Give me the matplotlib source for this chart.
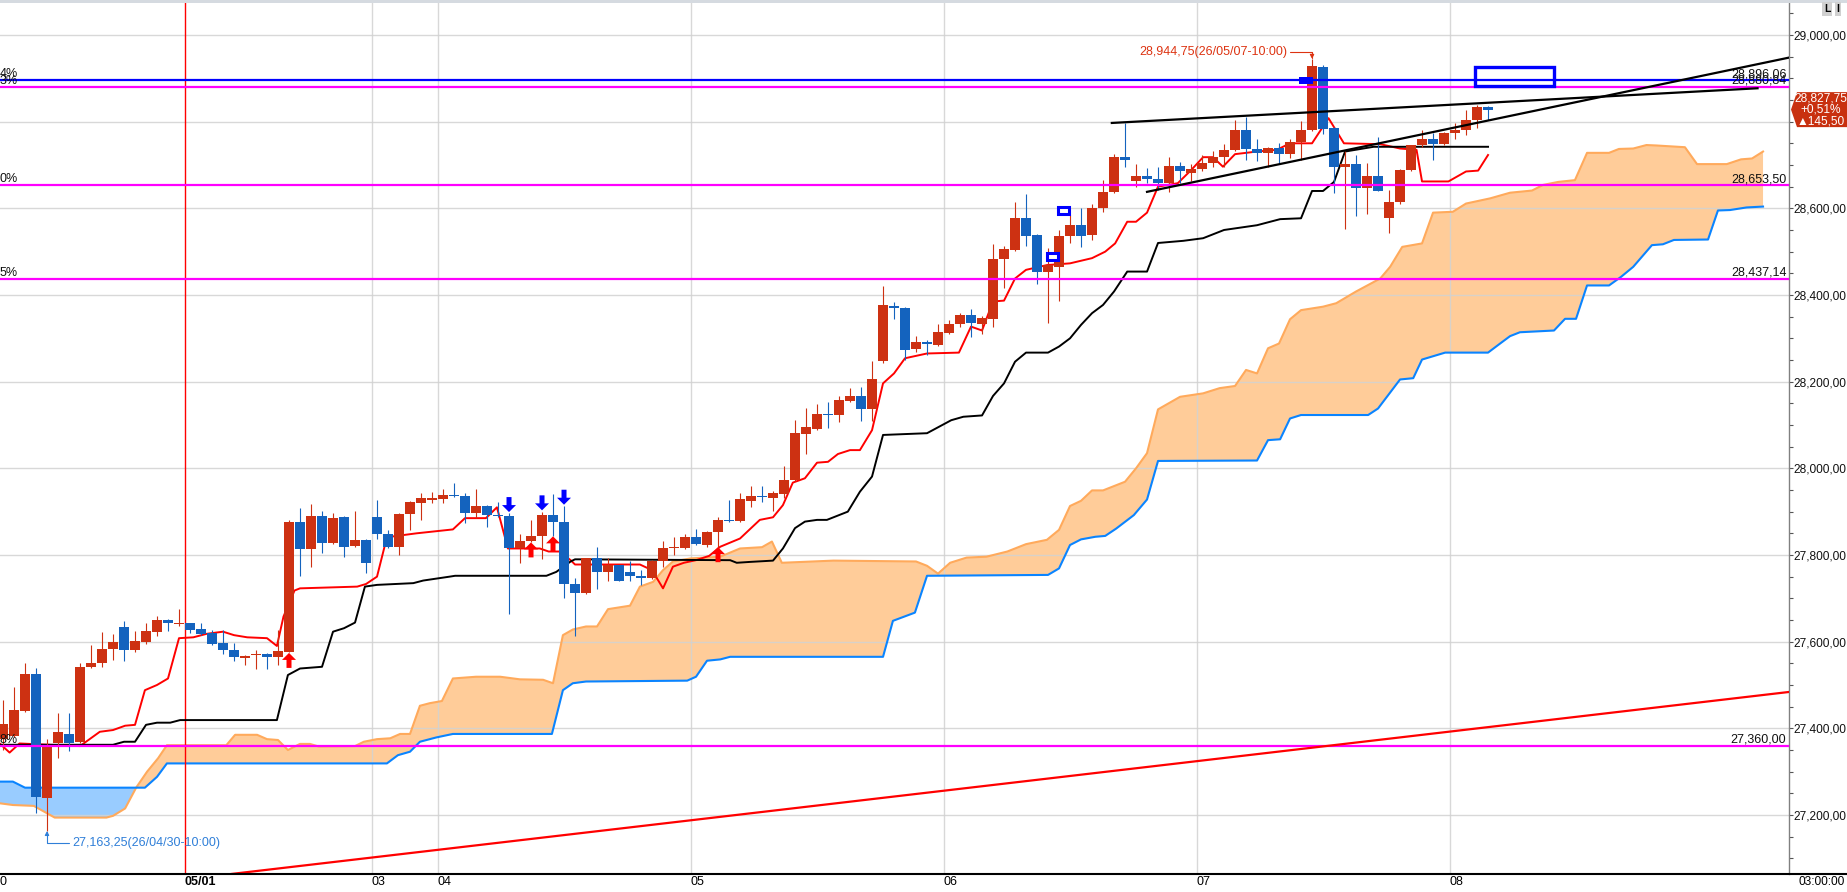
import numpy as np
import matplotlib
matplotlib.use('Agg')
import matplotlib.pyplot as plt
import matplotlib.transforms as mtransforms
from matplotlib import font_manager
from matplotlib.patches import Polygon, Rectangle
from matplotlib.lines import Line2D

# narrow font if there is one, else Arial-metric Liberation Sans a bit smaller
_names = {f.name for f in font_manager.fontManager.ttflist}
if 'Liberation Sans Narrow' in _names:
    FONT, FS, FS_AX = 'Liberation Sans Narrow', 9.8, 9.8
else:
    FONT, FS, FS_AX = 'Liberation Sans', 9.0, 8.6
plt.rcParams['font.family'] = [FONT, 'DejaVu Sans']

# hourly candles, index 0..135
opens = [27375, 27383, 27440, 27525, 27240, 27365, 27388, 27369, 27541, 27550,
         27583, 27633, 27581, 27600, 27623, 27650, 27640, 27642, 27629, 27621,
         27598, 27581, 27562, 27569, 27571, 27565, 27577, 27876, 27813, 27890,
         27828, 27887, 27821, 27835, 27887, 27848, 27819, 27895, 27921, 27928,
         27930, 27938, 27937, 27896, 27913, 27893, 27890, 27815, 27832, 27844,
         27892, 27875, 27732, 27712, 27792, 27761, 27777, 27760, 27752, 27746,
         27785, 27815, 27815, 27841, 27823, 27854, 27881, 27879, 27925, 27936,
         27932, 27940, 27972, 28079, 28091, 28126, 28123, 28155, 28167, 28136,
         28248, 28375, 28369, 28275, 28292, 28285, 28312, 28333, 28354, 28333,
         28345, 28482, 28504, 28577, 28538, 28454, 28465, 28536, 28562, 28538,
         28600, 28637, 28719, 28662, 28675, 28667, 28659, 28698, 28682, 28690,
         28705, 28718, 28735, 28781, 28736, 28727, 28740, 28725, 28752, 28781,
         28927, 28786, 28696, 28702, 28646, 28675, 28578, 28614, 28688, 28745,
         28759, 28748, 28773, 28781, 28804, 28833]
highs = [27465, 27495, 27551, 27539, 27375, 27436, 27436, 27550, 27592, 27623,
         27618, 27648, 27625, 27642, 27659, 27652, 27675, 27643, 27642, 27627,
         27627, 27596, 27570, 27581, 27573, 27627, 27881, 27908, 27918, 27901,
         27896, 27890, 27901, 27837, 27927, 27858, 27898, 27925, 27944, 27945,
         27952, 27967, 27942, 27952, 27915, 27923, 27896, 27848, 27881, 27900,
         27941, 27913, 27746, 27794, 27818, 27792, 27778, 27785, 27765, 27789,
         27832, 27841, 27848, 27859, 27856, 27887, 27927, 27944, 27959, 27959,
         27948, 28005, 28112, 28140, 28148, 28152, 28167, 28186, 28187, 28248,
         28421, 28383, 28372, 28306, 28296, 28333, 28342, 28359, 28367, 28352,
         28518, 28512, 28615, 28633, 28541, 28508, 28550, 28585, 28600, 28610,
         28665, 28725, 28796, 28702, 28692, 28695, 28718, 28708, 28702, 28723,
         28733, 28748, 28804, 28811, 28761, 28741, 28750, 28759, 28802, 28944.75,
         28930, 28788, 28733, 28723, 28705, 28764, 28642, 28690, 28746, 28781,
         28773, 28775, 28796, 28828, 28838, 28836]
lows = [27350, 27380, 27438, 27205, 27163.25, 27331, 27348, 27365, 27540, 27542,
        27558, 27556, 27577, 27595, 27614, 27625, 27635, 27619, 27616, 27592,
        27571, 27556, 27546, 27537, 27537, 27546, 27575, 27752, 27772, 27805,
        27826, 27796, 27819, 27758, 27838, 27817, 27800, 27858, 27881, 27919,
        27919, 27934, 27873, 27885, 27865, 27887, 27664, 27781, 27830, 27790,
        27844, 27700, 27614, 27710, 27721, 27741, 27740, 27741, 27731, 27744,
        27772, 27801, 27813, 27823, 27819, 27819, 27877, 27877, 27910, 27923,
        27902, 27931, 27970, 28033, 28089, 28092, 28108, 28153, 28110, 28110,
        28244, 28345, 28251, 28268, 28262, 28283, 28310, 28327, 28302, 28309,
        28325, 28415, 28502, 28512, 28425, 28336, 28385, 28519, 28511, 28528,
        28592, 28635, 28695, 28650, 28658, 28642, 28638, 28658, 28662, 28685,
        28695, 28695, 28733, 28711, 28710, 28696, 28705, 28717, 28711, 28779,
        28771, 28636, 28552, 28582, 28588, 28639, 28542, 28610, 28686, 28742,
        28711, 28746, 28759, 28769, 28785, 28804]
closes = [27410, 27442, 27525, 27242, 27360, 27391, 27367, 27541, 27550, 27583,
          27600, 27581, 27601, 27625, 27650, 27642, 27643, 27627, 27618, 27595,
          27581, 27564, 27568, 27571, 27565, 27579, 27876, 27813, 27890, 27828,
          27885, 27819, 27835, 27782, 27848, 27819, 27895, 27923, 27931, 27932,
          27938, 27935, 27896, 27913, 27892, 27891, 27815, 27832, 27844, 27892,
          27875, 27732, 27712, 27792, 27761, 27778, 27741, 27752, 27746, 27787,
          27817, 27817, 27841, 27825, 27854, 27881, 27879, 27929, 27936, 27934,
          27942, 27973, 28081, 28095, 28125, 28124, 28158, 28167, 28136, 28206,
          28377, 28369, 28273, 28291, 28286, 28314, 28333, 28354, 28335, 28346,
          28483, 28506, 28577, 28537, 28454, 28469, 28536, 28562, 28537, 28600,
          28637, 28718, 28711, 28675, 28667, 28659, 28698, 28685, 28690, 28705,
          28718, 28735, 28781, 28736, 28727, 28740, 28725, 28752, 28781, 28928,
          28783, 28696, 28702, 28646, 28675, 28641, 28614, 28688, 28745, 28759,
          28748, 28773, 28781, 28804, 28833, 28827.75]

# ichimoku lines as (candle index, price) vertices
tenkan = [(-0.3, 27365), (0.6, 27344), (1.5, 27365), (7, 27359), (8.8, 27392), (10, 27396),
          (11.1, 27406), (12, 27408), (12.9, 27488), (14, 27500), (15, 27515), (16, 27608),
          (17.3, 27610), (18.5, 27618), (20, 27623), (21, 27615), (22.2, 27610), (24, 27608),
          (24.9, 27590), (25.5, 27658), (26.5, 27718), (27, 27723), (32.2, 27727), (33, 27733),
          (34, 27750), (34.9, 27841), (37.6, 27850), (40.9, 27859), (42, 27885), (43.9, 27885),
          (44.9, 27910), (45.9, 27815), (48.8, 27815), (49.6, 27808), (50.6, 27808), (51.6, 27788),
          (52, 27778), (57.9, 27778), (59, 27765), (60, 27723), (60.9, 27773), (61.9, 27782),
          (63, 27788), (64.2, 27798), (65.2, 27819), (67, 27838), (68.8, 27881), (70, 27887),
          (70.9, 27915), (71.8, 27967), (72.9, 27977), (74, 28013), (75, 28015), (75.9, 28033),
          (77, 28042), (77.9, 28042), (79, 28088), (80, 28196), (81, 28219), (82, 28254),
          (84, 28265), (86.9, 28267), (88, 28327), (89, 28318), (90, 28385), (91, 28387),
          (92, 28438), (93, 28458), (94.9, 28469), (97, 28473), (98, 28479), (99, 28485),
          (100.2, 28500), (101.1, 28519), (102.2, 28569), (103, 28569), (104, 28590), (105, 28650),
          (106.8, 28658), (108, 28688), (109.1, 28718), (110, 28718), (110.9, 28696), (112, 28725),
          (114, 28731), (115.8, 28735), (117, 28750), (119, 28750), (120.5, 28808), (121.9, 28750),
          (125.2, 28748), (127, 28738), (128.5, 28735), (129, 28662), (131.4, 28662), (133, 28685),
          (134.1, 28687), (135, 28723)]
kijun = [(-0.3, 27362), (10, 27362), (11, 27369), (12, 27369), (13, 27408), (14, 27413),
         (15.2, 27413), (16.1, 27419), (24.9, 27419), (25.9, 27523), (27, 27538), (29, 27542),
         (30, 27623), (31, 27631), (32, 27644), (32.9, 27727), (34, 27731), (37.3, 27735),
         (38.2, 27741), (40.6, 27750), (41.1, 27752), (49.4, 27752), (50.3, 27761), (51.6, 27785),
         (52, 27790), (66.1, 27788), (66.7, 27782), (67.9, 27784), (70, 27787), (70.9, 27815),
         (72, 27862), (72.9, 27877), (74, 27881), (74.9, 27881), (76.8, 27900), (77.9, 27946),
         (79, 27981), (80, 28077), (84, 28081), (86.2, 28111), (87.3, 28119), (89, 28122),
         (90, 28167), (91, 28196), (92, 28246), (93, 28267), (95, 28267), (96, 28281),
         (97, 28300), (98, 28331), (99, 28358), (100, 28377), (101, 28408), (102.2, 28454),
         (104, 28454), (105, 28520), (107.3, 28525), (109.1, 28531), (111, 28550), (114, 28561),
         (116.1, 28575), (118, 28577), (119, 28640), (120, 28640), (121, 28661), (122, 28731),
         (124.6, 28742), (135, 28742)]
span_a = [(-0.3, 27227), (0.9, 27223), (2.8, 27221), (4.7, 27194), (9.4, 27194), (10, 27198),
          (11.1, 27215), (12, 27258), (12.1, 27263), (13.1, 27300), (14.1, 27331), (14.9, 27361),
          (20.3, 27361), (21.1, 27385), (23.1, 27385), (24, 27375), (25, 27373), (25.9, 27350),
          (27, 27364), (27.9, 27364), (28.7, 27358), (32, 27359), (32.8, 27369), (34, 27375),
          (35.2, 27377), (36.1, 27387), (37, 27387), (37.9, 27452), (38.8, 27458), (39.9, 27463),
          (40.9, 27515), (43, 27519), (45.2, 27519), (47, 27513), (49.1, 27512), (50, 27504),
          (50.9, 27615), (51.8, 27628), (53, 27635), (54, 27635), (55, 27675), (57, 27683),
          (57.9, 27727), (59.1, 27738), (60, 27765), (60.9, 27785), (62.5, 27792), (65.2, 27796),
          (67, 27815), (69, 27818), (69.9, 27831), (70.8, 27782), (75.5, 27787), (83, 27785),
          (84, 27775), (85, 27757), (86.1, 27782), (87.6, 27794), (89.4, 27796), (91.3, 27808),
          (93, 27825), (94.9, 27835), (96, 27858), (97, 27913), (98, 27925), (99, 27949),
          (100, 27949), (102, 27969), (103, 28000), (104, 28035), (105, 28136), (107, 28165),
          (109.1, 28173), (110.6, 28185), (112, 28190), (113, 28227), (114, 28219), (115, 28277),
          (116, 28288), (117, 28344), (118, 28365), (120, 28373), (121.2, 28381), (123, 28408),
          (125.2, 28438), (126.1, 28465), (127.2, 28511), (129, 28519), (130, 28590), (131.8, 28592),
          (133, 28611), (135.2, 28623), (137, 28636), (139, 28641), (140, 28654), (141.4, 28661),
          (142.9, 28665), (144, 28728), (146, 28728), (146.9, 28737), (148.2, 28738), (149.4, 28746),
          (150.3, 28745), (152.9, 28741), (154, 28702), (156.7, 28702), (158, 28713), (159, 28715),
          (160, 28731)]
span_b = [(-0.3, 27277), (0.9, 27277), (2, 27263), (12.1, 27263), (12.9, 27263), (14, 27288),
          (14.9, 27319), (34.9, 27319), (35.9, 27338), (37, 27346), (37.9, 27369), (39.4, 27379),
          (40.9, 27387), (49.9, 27387), (50.9, 27488), (51.8, 27504), (53, 27508), (62.2, 27510),
          (63, 27519), (64, 27556), (65.2, 27559), (66.1, 27565), (80, 27565), (80.9, 27648),
          (82.9, 27667), (84, 27752), (95, 27754), (96, 27769), (97, 27823), (98, 27836),
          (99.3, 27842), (100.2, 27844), (101.2, 27861), (102.8, 27892), (104, 27928), (105, 28017),
          (114, 28018), (115, 28065), (116.1, 28067), (117, 28115), (118, 28123), (124.1, 28123),
          (125, 28138), (127, 28205), (128.2, 28208), (129, 28251), (131.1, 28267), (135, 28267),
          (136.1, 28288), (137, 28305), (137.9, 28314), (141, 28318), (142, 28345), (143, 28345),
          (144, 28422), (146, 28422), (147.1, 28442), (148.2, 28465), (149.9, 28515), (150.9, 28517),
          (151.9, 28527), (155, 28528), (155.9, 28595), (157, 28596), (158.5, 28602), (160, 28604)]
cloud_cross = 12.1

# drawn objects
level_prices = [28896.06, 28880.84, 28653.50, 28437.14, 27360.00]
level_colors = ['#0000FF', '#FF00FF', '#FF00FF', '#FF00FF', '#FF00FF']
level_left_tags = ['4%', '3%', '0%', '5%', '8%']
trend_black_1 = [(100.8, 28797), (159.5, 28877)]
trend_black_2 = [(104.0, 28638), (162.4, 28948)]
trend_red = [(20.8, 27064), (162.4, 27484)]
box_k = (133.8, 141.0)
box_p = (28882, 28926)
sell_signals = [46, 49, 51]
buy_signals = [26, 48, 50, 65]
hollow_marks = [(95.4, 28489), (96.45, 28595)]
solid_marks = [(118.45, 28896)]

date_pos = [16.5, 33.5, 39.5, 62.5, 85.5, 108.5, 131.5]
date_labels = ['05/01', '03', '04', '05', '06', '07', '08']
change_value = 145.50
change_pct = 0.51

UP, DOWN = '#CD3112', '#1463BE'
W, H = 1847, 892


def won(v):
    return f'{v:,.2f}'.replace('.', ',')


fig = plt.figure(figsize=(W / 100, H / 100), dpi=100)
ax = fig.add_axes([0, 18 / H, 1789 / W, 871 / H])
ax.set_xlim(-0.273, 162.36)
ax.set_ylim(27063.8, 29073.8)

# grid
yt = np.arange(27200, 29001, 200)
for v in yt:
    ax.axhline(v, color='#D2D2D2', lw=1, zorder=1.5, alpha=0.85)
for p in date_pos[1:]:
    ax.axvline(p, color='#D2D2D2', lw=1, zorder=1.5, alpha=0.85)
ax.axvline(date_pos[0], color='#FF0000', lw=1, zorder=3)

# cloud
A = np.array(span_a)
B = np.array(span_b)
left_a, left_b = A[A[:, 0] <= cloud_cross], B[B[:, 0] <= cloud_cross]
right_a, right_b = A[A[:, 0] >= cloud_cross], B[B[:, 0] >= cloud_cross]
ax.add_patch(Polygon(np.vstack([left_a, left_b[::-1]]), closed=True,
                     facecolor='#99CCFF', edgecolor='none', zorder=1))
ax.add_patch(Polygon(np.vstack([right_a, right_b[::-1]]), closed=True,
                     facecolor='#FFCC99', edgecolor='none', zorder=1))
ax.plot(A[:, 0], A[:, 1], color='#FFAA5C', lw=1.5, zorder=2)
ax.plot(B[:, 0], B[:, 1], color='#0A84FF', lw=1.5, zorder=2)

# conversion / base lines
T = np.array(tenkan)
K = np.array(kijun)
ax.plot(T[:, 0], T[:, 1], color='#FF0000', lw=1.4, zorder=4)
ax.plot(K[:, 0], K[:, 1], color='#000000', lw=1.4, zorder=4)

# candles
o, h, l, c = (np.array(a, dtype=float) for a in (opens, highs, lows, closes))
idx = np.arange(len(o))
cols = np.where(c > o, UP, DOWN)
ax.vlines(idx, l, h, colors=cols, lw=0.8, zorder=5)
ax.bar(idx, np.maximum(np.abs(c - o), 2.3), bottom=np.minimum(o, c), width=0.85,
       color=cols, lw=0, zorder=5)

# horizontal levels
lab_tr = mtransforms.blended_transform_factory(ax.transAxes, ax.transData)
lift = mtransforms.ScaledTranslation(0, 3 / 100, fig.dpi_scale_trans)
for v, col, tag in zip(level_prices, level_colors, level_left_tags):
    ax.axhline(v, color=col, lw=1.6, zorder=6)
    ax.text(0.9985, v, won(v), transform=lab_tr + lift,
            ha='right', va='baseline', fontsize=FS, color='#111111', zorder=7)
    ax.text(18 / 1789, v, tag, transform=lab_tr + lift,
            ha='right', va='baseline', fontsize=FS, color='#111111', zorder=7)

# trend lines
for pts, col in ((trend_black_1, 'black'), (trend_black_2, 'black'), (trend_red, '#FF0000')):
    pts = np.array(pts)
    ax.plot(pts[:, 0], pts[:, 1], color=col, lw=1.6, zorder=8)

ax.add_patch(Rectangle((box_k[0], box_p[0]), box_k[1] - box_k[0], box_p[1] - box_p[0],
                       fill=False, edgecolor='#0000FF', lw=2.4, zorder=8))


def pix_patch(verts, x, y, **kw):
    tr = mtransforms.ScaledTranslation(x, y, ax.transData)
    return Polygon(verts, closed=True, transform=tr, **kw)


up_arrow = [(0, 0), (7, -7), (2.5, -7), (2.5, -15), (-2.5, -15), (-2.5, -7), (-7, -7)]
down_arrow = [(x, -y) for x, y in up_arrow]
for k in buy_signals:
    ax.add_artist(pix_patch(up_arrow, k, lows[k] - 1, facecolor='#FF0000', edgecolor='none', zorder=9))
for k in sell_signals:
    ax.add_artist(pix_patch(down_arrow, k, highs[k] + 3, facecolor='#0000FF', edgecolor='none', zorder=9))
for k, p in hollow_marks:
    ax.add_artist(pix_patch([(-5.5, -3.5), (5.5, -3.5), (5.5, 3.5), (-5.5, 3.5)], k, p,
                            facecolor='white', edgecolor='#0000FF', lw=2.2, zorder=9))
for k, p in solid_marks:
    ax.add_artist(pix_patch([(-7, -3.5), (7, -3.5), (7, 3.5), (-7, 3.5)], k, p,
                            facecolor='#0000FF', edgecolor='none', zorder=9))

# high / low annotations
hi_k = int(np.argmax(h))
lo_k = int(np.argmin(l))
ax.annotate(f'{won(h[hi_k])}(26/05/07-10:00)', xy=(hi_k, h[hi_k]), xytext=(-25, 7),
            textcoords='offset pixels', ha='right', va='center', fontsize=FS, color='#DD3311',
            arrowprops=dict(arrowstyle='-|>', color='#DD3311', lw=0.8, mutation_scale=6,
                            shrinkA=0, shrinkB=0, connectionstyle='angle,angleA=0,angleB=90,rad=0'),
            zorder=10)
ax.annotate(f'{won(l[lo_k])}(26/04/30-10:00)', xy=(lo_k, l[lo_k]), xytext=(25, -12),
            textcoords='offset pixels', ha='left', va='center', fontsize=FS, color='#2F7FD8',
            arrowprops=dict(arrowstyle='-|>', color='#2F7FD8', lw=0.8, mutation_scale=6,
                            shrinkA=0, shrinkB=0, connectionstyle='angle,angleA=0,angleB=90,rad=0'),
            zorder=10)

# axes styling; the 28,800 label sits under the last-price tag, so it is left blank
ax.yaxis.tick_right()
ax.set_yticks(yt)
ax.set_yticks(np.arange(27100, 29051, 50), minor=True)
ax.set_yticklabels(['' if abs(v - c[-1]) < 60 else won(v) for v in yt])
ax.tick_params(axis='y', which='both', direction='out', length=3, width=0.8, color='#555555',
               pad=0.3, labelsize=FS_AX, labelcolor='#111111')
ax.set_xticks([])
for s in ('left', 'top', 'bottom'):
    ax.spines[s].set_visible(False)
ax.spines['right'].set_color('#808080')
ax.spines['right'].set_linewidth(1)

xl_tr = mtransforms.blended_transform_factory(ax.transData, ax.transAxes)
for p, lab in zip(date_pos, date_labels):
    ax.text(p, -0.002, lab, transform=xl_tr, ha='left', va='top', fontsize=FS,
            fontweight='bold' if '/' in lab else 'normal', clip_on=False)
ax.text(0, -0.002, '0', transform=ax.transAxes, ha='left', va='top', fontsize=FS, clip_on=False)
fig.text(1845 / W, 1 - 876 / H, '03:00:00', ha='right', va='top', fontsize=FS_AX)
fig.add_artist(Line2D([0, 1], [18 / H, 18 / H], transform=fig.transFigure, color='black', lw=1.5))
fig.patches.append(Rectangle((0, 1 - 3 / H), 1, 3 / H, transform=fig.transFigure,
                             facecolor='#D5DAE0', edgecolor='none'))

# last price tag
fig.canvas.draw()
yc = ax.transData.transform((0, c[-1]))[1]
tag = Polygon([(1791, yc), (1797, yc + 17.5), (1847, yc + 17.5), (1847, yc - 17.5), (1797, yc - 17.5)],
              closed=True, transform=mtransforms.IdentityTransform(), facecolor='#C8300F',
              edgecolor='none', zorder=5)
fig.patches.append(tag)
for dy, s in ((11.5, won(c[-1])), (0, f'+{change_pct:.2f}%'.replace('.', ',')),
              (-11.5, '▲' + won(change_value))):
    fig.text(1821, yc + dy, s, transform=mtransforms.IdentityTransform(), ha='center',
             va='center', fontsize=FS_AX, color='white', zorder=6)

for x0, s in ((1822, 'L'), (1833, 'I')):
    fig.text(x0 + 5, H - 9, s, transform=mtransforms.IdentityTransform(), ha='center', va='center',
             fontsize=7.5, fontweight='bold', color='black',
             bbox=dict(boxstyle='square,pad=0.15', facecolor='#D0D0D0', edgecolor='none'))

fig.savefig('out.png', dpi=100)
